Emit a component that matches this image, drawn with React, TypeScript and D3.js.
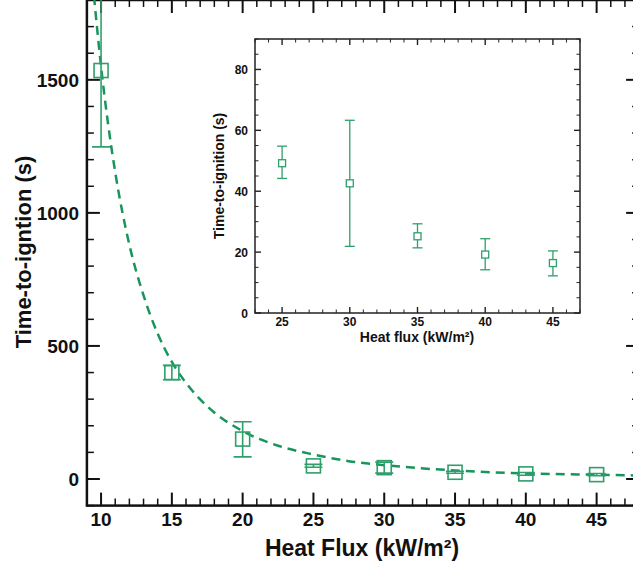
import React from "react";
import * as d3 from "d3";

// ---- data ----
const heatFlux = [10, 15, 20, 25, 30, 35, 40, 45];
const tigMean = [1535, 400, 150, 49.2, 42.6, 25.2, 19.2, 16.4];
const tigLow = [1248, 373, 83, 44.2, 21.9, 21.4, 14.2, 12.2];
const tigHigh = [1822, 427, 215, 54.8, 63.3, 29.3, 24.4, 20.4];

const insetFlux = [25, 30, 35, 40, 45];
const insetMean = [49.2, 42.6, 25.2, 19.2, 16.4];
const insetLow = [44.2, 21.9, 21.4, 14.2, 12.2];
const insetHigh = [54.8, 63.3, 29.3, 24.4, 20.4];

// fitted curve
const fitX = [9.5, 10, 10.5, 11, 12, 13, 14, 15, 16, 17.5, 20, 22.5, 25, 27.5, 30, 35, 40, 45, 48];
const fitY = [1815, 1550, 1333, 1153, 880, 690, 546, 440, 361, 273, 180, 125, 92, 67, 52, 32, 21, 16, 13];

const mainXTicks = [10, 15, 20, 25, 30, 35, 40, 45];
const mainYTicks = [0, 500, 1000, 1500];
const insetXTicks = [25, 30, 35, 40, 45];
const insetYTicks = [0, 20, 40, 60, 80];

const MARK = "#2f9f6c";
const FIT = "#17955a";
const AX = "#111";

export default function App() {
  const x = d3.scaleLinear().domain([9, 48]).range([86.9, 639.1]);
  const y = d3.scaleLinear().domain([-100, 1800]).range([505.6, 0]);
  const ix = d3.scaleLinear().domain([23, 47]).range([255, 580]);
  const iy = d3.scaleLinear().domain([0, 90]).range([313, 39]);

  const fitLine = d3
    .line<number>()
    .x((_, i) => x(fitX[i]))
    .y((d) => y(d))
    .curve(d3.curveMonotoneX);

  const xMinor = d3.range(9, 49, 1);
  const yMinor = d3.range(-100, 1801, 100);
  const ixMinor = d3.range(23, 48, 1);
  const iyMinor = d3.range(0, 91, 5);

  const [x0, x1] = x.range();
  const [y0, y1] = [y(-100), y(1800)];
  const font = "'Liberation Sans', Arial, sans-serif";

  return (
    <svg
      width={633}
      height={567}
      style={{ position: "absolute", left: 0, top: 0, background: "#fff" }}
      fontFamily={font}
    >
      <defs>
        <clipPath id="plotClip">
          <rect x={x0} y={y1} width={x1 - x0} height={y0 - y1} />
        </clipPath>
      </defs>
      <rect width={633} height={567} fill="#fff" />

      {/* main minor/major ticks */}
      <g stroke={AX}>
        {xMinor.map((v) => {
          const major = v % 5 === 0;
          const len = major ? 13 : 7;
          return (
            <g key={"xm" + v} strokeWidth={major ? 2 : 1.5}>
              <line x1={x(v)} x2={x(v)} y1={y0} y2={y0 - len} />
              <line x1={x(v)} x2={x(v)} y1={y1} y2={y1 + len} />
            </g>
          );
        })}
        {yMinor.map((v) => {
          const major = v % 500 === 0;
          const len = major ? 13 : 7;
          return (
            <g key={"ym" + v} strokeWidth={major ? 2 : 1.5}>
              <line x1={x0} x2={x0 + len} y1={y(v)} y2={y(v)} />
              <line x1={x1} x2={x1 - len} y1={y(v)} y2={y(v)} />
            </g>
          );
        })}
      </g>
      <rect
        x={x0}
        y={y1}
        width={x1 - x0}
        height={y0 - y1}
        fill="none"
        stroke={AX}
        strokeWidth={2.5}
      />

      {/* main tick labels */}
      <g fontSize={19} fontWeight="bold" fill={AX}>
        {mainXTicks.map((v) => (
          <text key={"xl" + v} x={x(v)} y={526} textAnchor="middle">
            {v}
          </text>
        ))}
        {mainYTicks.map((v) => (
          <text key={"yl" + v} x={79} y={y(v) + 7} textAnchor="end">
            {v}
          </text>
        ))}
      </g>

      {/* axis titles */}
      <text
        x={362}
        y={556}
        textAnchor="middle"
        fontSize={23}
        fontWeight="bold"
        fill={AX}
      >
        Heat Flux (kW/m²)
      </text>
      <text
        transform={`translate(31,252) rotate(-90)`}
        textAnchor="middle"
        fontSize={22}
        fontWeight="bold"
        fill={AX}
      >
        Time-to-igntion (s)
      </text>

      {/* fit curve */}
      <g clipPath="url(#plotClip)">
        <path
          d={fitLine(fitY) || ""}
          fill="none"
          stroke={FIT}
          strokeWidth={2.5}
          strokeDasharray="9,6"
        />
        {/* error bars and markers */}
        {heatFlux.map((h, i) => {
          const cx = x(h);
          return (
            <g key={"pt" + h} stroke={MARK} strokeWidth={1.6} fill="none">
              <line x1={cx} x2={cx} y1={y(tigLow[i])} y2={y(tigHigh[i])} />
              <line x1={cx - 9} x2={cx + 9} y1={y(tigLow[i])} y2={y(tigLow[i])} />
              <line x1={cx - 9} x2={cx + 9} y1={y(tigHigh[i])} y2={y(tigHigh[i])} />
              <rect x={cx - 7} y={y(tigMean[i]) - 7} width={14} height={14} />
            </g>
          );
        })}
      </g>

      {/* inset */}
      <rect
        x={ix(23)}
        y={iy(90)}
        width={ix(47) - ix(23)}
        height={iy(0) - iy(90)}
        fill="#fff"
      />
      <g stroke="#222">
        {ixMinor.map((v) => {
          const major = v % 5 === 0;
          const len = major ? 6 : 3.5;
          return (
            <g key={"ixm" + v} strokeWidth={major ? 1.4 : 1}>
              <line x1={ix(v)} x2={ix(v)} y1={iy(0)} y2={iy(0) - len} />
              <line x1={ix(v)} x2={ix(v)} y1={iy(90)} y2={iy(90) + len} />
            </g>
          );
        })}
        {iyMinor.map((v) => {
          const major = v % 20 === 0;
          const len = major ? 6 : 3.5;
          return (
            <g key={"iym" + v} strokeWidth={major ? 1.4 : 1}>
              <line x1={ix(23)} x2={ix(23) + len} y1={iy(v)} y2={iy(v)} />
              <line x1={ix(47)} x2={ix(47) - len} y1={iy(v)} y2={iy(v)} />
            </g>
          );
        })}
      </g>
      <rect
        x={ix(23)}
        y={iy(90)}
        width={ix(47) - ix(23)}
        height={iy(0) - iy(90)}
        fill="none"
        stroke="#222"
        strokeWidth={1.5}
      />
      <g fontSize={12} fontWeight="bold" fill={AX}>
        {insetXTicks.map((v) => (
          <text key={"ixl" + v} x={ix(v)} y={326} textAnchor="middle">
            {v}
          </text>
        ))}
        {insetYTicks.map((v) => (
          <text key={"iyl" + v} x={248} y={iy(v) + 4.5} textAnchor="end">
            {v}
          </text>
        ))}
      </g>
      <text
        x={417}
        y={342}
        textAnchor="middle"
        fontSize={14}
        fontWeight="bold"
        fill={AX}
      >
        Heat flux (kW/m²)
      </text>
      <text
        transform={`translate(224,176) rotate(-90)`}
        textAnchor="middle"
        fontSize={14}
        fontWeight="bold"
        fill={AX}
      >
        Time-to-ignition (s)
      </text>
      {insetFlux.map((h, i) => {
        const cx = ix(h);
        return (
          <g key={"ipt" + h} stroke={MARK} strokeWidth={1.3} fill="none">
            <line x1={cx} x2={cx} y1={iy(insetLow[i])} y2={iy(insetHigh[i])} />
            <line x1={cx - 5} x2={cx + 5} y1={iy(insetLow[i])} y2={iy(insetLow[i])} />
            <line x1={cx - 5} x2={cx + 5} y1={iy(insetHigh[i])} y2={iy(insetHigh[i])} />
            <rect
              x={cx - 3.5}
              y={iy(insetMean[i]) - 3.5}
              width={7}
              height={7}
              fill="#fff"
            />
          </g>
        );
      })}
    </svg>
  );
}
